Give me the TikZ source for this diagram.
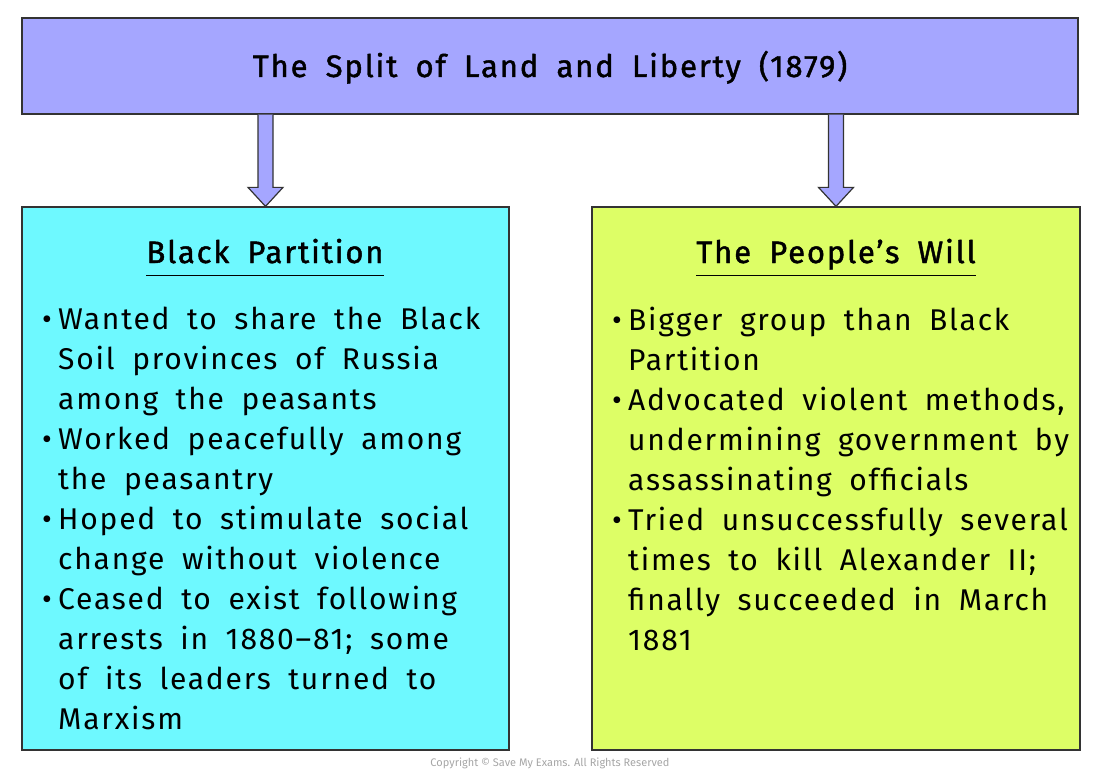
\documentclass[tikz,border=0pt]{standalone}
\usepackage{fontspec}
\setmainfont{Fira Sans}[LetterSpace=6, WordSpace=1.8]
\newfontfamily\headfont{Fira Sans}[LetterSpace=6, WordSpace=1.8, FakeBold=1.4, Ligatures=TeX]
\newfontfamily\copyfont{Fira Sans}
\usepackage{tikz}
\usetikzlibrary{positioning,calc}
\definecolor{titlefill}{HTML}{A5A6FF}
\definecolor{blackfill}{HTML}{6EF9FF}
\definecolor{willfill}{HTML}{DDFE66}
\definecolor{edgegray}{HTML}{333333}
\newcommand{\itm}{\makebox[16pt][l]{\textbullet}}
\newcommand{\cnt}{\hspace*{16pt}}

\begin{document}
\begin{tikzpicture}[x=1pt, y=-1pt,
    box/.style={draw=edgegray, line width=1.2pt, rectangle, inner sep=0pt},
    head/.style={font=\headfont\fontsize{31}{36}\selectfont, inner sep=0pt, anchor=base},
    body/.style={font=\fontsize{30}{40}\selectfont, align=left, anchor=north west, inner sep=0pt},
    bigarrow/.style={draw=edgegray, line width=1.2pt, fill=titlefill, line join=miter}]
    \useasboundingbox (0,0) rectangle (1100,778);

    \node[box, fill=titlefill, minimum width=1056pt, minimum height=96pt] (title) at (550,66) {};
    \node[head] (titletext) at (550,77) {The Split of Land and Liberty (1879)};

    \node[box, fill=blackfill, minimum width=487pt, minimum height=543pt] (blackbox) at (265.5,478.5) {};
    \node[box, fill=willfill, minimum width=488pt, minimum height=543pt] (willbox) at (836,478.5) {};

    % block arrows from the title down to each group
    \foreach \grp in {blackbox,willbox} {
        \draw[bigarrow] ($(\grp.north |- title.south)+(-7.5,0)$) -- ($(\grp.north)+(-7.5,-19)$)
            -- ($(\grp.north)+(-17.5,-19)$) -- (\grp.north) -- ($(\grp.north)+(17.5,-19)$)
            -- ($(\grp.north)+(7.5,-19)$) -- ($(\grp.north |- title.south)+(7.5,0)$);
    }

    % headings
    \node[head] (blackhead) at (265,263) {Black Partition};
    \draw[line width=1pt] ($(blackhead.base west)+(0,12)$) -- ($(blackhead.base east)+(0,12)$);
    \node[head] (willhead) at (836,263) {The People’s Will};
    \draw[line width=1pt] ($(willhead.base west)+(0,12)$) -- ($(willhead.base east)+(0,12)$);

    % lists
    \node[body] (blacklist) at (42,307) {\itm Wanted to share the Black\\
        \cnt Soil provinces of Russia\\
        \cnt among the peasants\\
        \itm Worked peacefully among\\
        \cnt the peasantry\\
        \itm Hoped to stimulate social\\
        \cnt change without violence\\
        \itm Ceased to exist following\\
        \cnt arrests in 1880--81; some\\
        \cnt of its leaders turned to\\
        \cnt Marxism};
    \node[body] (willlist) at (612,307) {\itm Bigger group than Black\\
        \cnt Partition\\
        \itm Advocated violent methods,\\
        \cnt undermining government by\\
        \cnt assassinating officials\\
        \itm Tried unsuccessfully several\\
        \cnt times to kill Alexander II;\\
        \cnt finally succeeded in March\\
        \cnt 1881};

    \node[font=\copyfont\fontsize{11}{12}\selectfont, text=gray!70, inner sep=0pt] (copy) at (550,763) {Copyright \textcopyright{} Save My Exams. All Rights Reserved};
\end{tikzpicture}
\end{document}
